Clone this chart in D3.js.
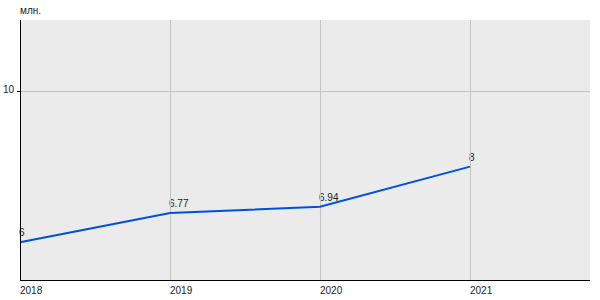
<!DOCTYPE html>
<html>
<head>
<meta charset="utf-8">
<script src="https://cdn.jsdelivr.net/npm/d3@7"></script>
<style>
body { margin: 0; background: #fff; }
text { font-family: Arial, "Liberation Sans", sans-serif; }
</style>
</head>
<body>
<script>
// Data
var years = [2018, 2019, 2020, 2021]
var values = [6, 6.77, 6.94, 8]
var labels = ['6', '6.77', '6.94', '8']
var yTicks = [10]
var unit = 'млн.'

var w = 600, h = 300
var pLeft = 20, pRight = 590, pTop = 20, pBottom = 280

var xScale = d3.scaleLinear().domain([2018, 2021.8]).range([pLeft, pRight])
var yScale = d3.scaleLinear().domain([5, 11.88]).range([pBottom, pTop])

var svg = d3.select('body').append('svg')
	.attr('width', w)
	.attr('height', h)

// plot background
svg.append('rect')
	.attr('x', pLeft).attr('y', pTop)
	.attr('width', pRight - pLeft).attr('height', pBottom - pTop)
	.attr('fill', '#ebebeb')

// data labels (under the grid)
svg.selectAll('.lbl')
	.data(years)
	.enter()
	.append('text')
	.attr('x', function (d) { return Math.round(xScale(d)) - 1 })
	.attr('y', function (d, i) { return Math.round(yScale(values[i])) - 6 })
	.attr('font-size', 10)
	.attr('fill', '#222')
	.text(function (d, i) { return labels[i] })

// grid
svg.selectAll('.vg')
	.data(years.slice(1))
	.enter()
	.append('line')
	.attr('x1', function (d) { return Math.round(xScale(d)) + 0.5 })
	.attr('x2', function (d) { return Math.round(xScale(d)) + 0.5 })
	.attr('y1', pTop).attr('y2', pBottom)
	.attr('stroke', '#c4c4c4')

svg.selectAll('.hg')
	.data(yTicks)
	.enter()
	.append('line')
	.attr('x1', pLeft).attr('x2', pRight)
	.attr('y1', function (d) { return Math.round(yScale(d)) + 0.5 })
	.attr('y2', function (d) { return Math.round(yScale(d)) + 0.5 })
	.attr('stroke', '#c4c4c4')

// line
var line = d3.line()
	.x(function (d, i) { return xScale(years[i]) })
	.y(function (d) { return yScale(d) })

svg.append('path')
	.datum(values)
	.attr('d', line)
	.attr('fill', 'none')
	.attr('stroke', '#0050dc')
	.attr('stroke-width', 2)

// axes
svg.append('line')
	.attr('x1', pLeft + 0.5).attr('x2', pLeft + 0.5)
	.attr('y1', pTop).attr('y2', pBottom + 1)
	.attr('stroke', '#000')
svg.append('line')
	.attr('x1', pLeft).attr('x2', pRight)
	.attr('y1', pBottom + 0.5).attr('y2', pBottom + 0.5)
	.attr('stroke', '#000')

// y ticks
yTicks.forEach(function (t) {
	var y = Math.round(yScale(t)) + 0.5
	svg.append('line')
		.attr('x1', pLeft - 3).attr('x2', pLeft)
		.attr('y1', y).attr('y2', y)
		.attr('stroke', '#000')
	svg.append('text')
		.attr('x', pLeft - 6).attr('y', y + 1)
		.attr('text-anchor', 'end')
		.attr('font-size', 10)
		.attr('fill', '#222')
		.text(t)
})

// x tick labels
svg.selectAll('.xl')
	.data(years)
	.enter()
	.append('text')
	.attr('x', function (d) { return xScale(d) })
	.attr('y', 294)
	.attr('font-size', 10)
	.attr('fill', '#222')
	.text(function (d) { return d })

// unit
svg.append('text')
	.attr('x', pLeft).attr('y', 14)
	.attr('font-size', 10)
	.attr('fill', '#222')
	.text(unit)
</script>
</body>
</html>
